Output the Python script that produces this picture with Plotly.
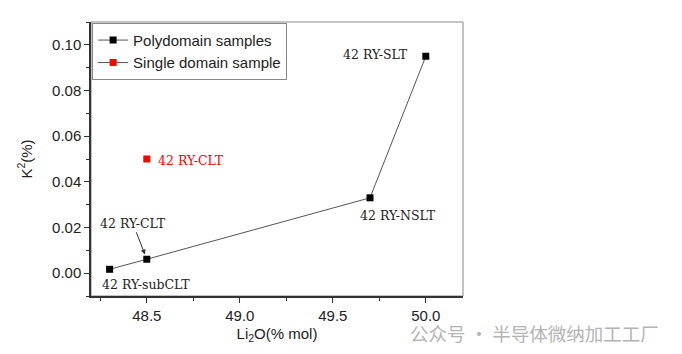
import plotly.graph_objects as go

poly_x = [48.3, 48.5, 49.7, 50.0]
poly_y = [0.0017, 0.0061, 0.033, 0.095]
single_x = [48.5]
single_y = [0.050]

labels = ["42 RY-subCLT", "42 RY-CLT", "42 RY-NSLT", "42 RY-SLT"]
single_label = "42 RY-CLT"

x_ticks = [48.5, 49.0, 49.5, 50.0]
y_ticks = [0.00, 0.02, 0.04, 0.06, 0.08, 0.10]

fig = go.Figure()
fig.add_trace(go.Scatter(
    x=poly_x, y=poly_y, mode="lines+markers", name="Polydomain samples",
    line=dict(color="#555555", width=1),
    marker=dict(symbol="square", size=7, color="black"),
))
fig.add_trace(go.Scatter(
    x=single_x, y=single_y, mode="lines+markers", name="Single domain sample",
    line=dict(color="#555555", width=1),
    marker=dict(symbol="square", size=7, color="red"),
))

serif = dict(family="DejaVu Serif", size=12.5, color="#222222")
fig.add_annotation(x=poly_x[0], y=poly_y[0], text=labels[0], showarrow=False,
                   xanchor="left", yanchor="top", xshift=-10, yshift=-6, font=serif)
fig.add_annotation(x=poly_x[1], y=poly_y[1], text=labels[1], showarrow=True,
                   arrowhead=2, arrowsize=1, arrowwidth=1, arrowcolor="#333333",
                   ax=-14, ay=-36, standoff=5, font=serif)
fig.add_annotation(x=poly_x[2], y=poly_y[2], text=labels[2], showarrow=False,
                   xanchor="center", yanchor="top", xshift=28, yshift=-8, font=serif)
fig.add_annotation(x=poly_x[3], y=poly_y[3], text=labels[3], showarrow=False,
                   xanchor="right", yanchor="middle", xshift=-16, yshift=2, font=serif)
fig.add_annotation(x=single_x[0], y=single_y[0], text=single_label, showarrow=False,
                   xanchor="left", yanchor="middle", xshift=9, yshift=-1,
                   font=dict(family="DejaVu Serif", size=12.5, color="red"))

# watermark
fig.add_annotation(xref="paper", yref="paper", x=1.53, y=-0.135, xanchor="right",
                   yanchor="middle", text="\u516c\u4f17\u53f7 \u00b7 \u534a\u5bfc\u4f53\u5fae\u7eb3\u52a0\u5de5\u5de5\u5382",
                   showarrow=False, borderpad=0,
                   font=dict(family="Noto Sans CJK SC", size=18.5, color="#b4b4b4"))

fig.add_shape(type="rect", xref="paper", yref="paper", x0=0, y0=0, x1=1, y1=1,
              line=dict(color="#888888", width=1), layer="below")

axis_font = dict(family="Liberation Sans, Arial", size=15, color="#222222")
fig.update_xaxes(range=[48.2, 50.2], tickvals=x_ticks, ticktext=[f"{v:.1f}" for v in x_ticks],
                 ticks="outside", ticklen=5, tickwidth=1, tickcolor="#333333",
                 showline=True, linecolor="#333333", linewidth=1.5,
                 showgrid=False, zeroline=False,
                 minor=dict(ticks="outside", ticklen=3, tickcolor="#333333", dtick=0.25, tick0=48.25, showgrid=False),
                 tickfont=axis_font,
                 title=dict(text="Li<sub>2</sub>O(% mol)", font=axis_font, standoff=6))
fig.update_yaxes(range=[-0.01, 0.11], tickvals=y_ticks, ticktext=[f"{v:.2f}" for v in y_ticks],
                 ticks="outside", ticklen=5, tickwidth=1, tickcolor="#333333",
                 showline=True, linecolor="#333333", linewidth=1.5,
                 showgrid=False, zeroline=False,
                 minor=dict(ticks="outside", ticklen=3, tickcolor="#333333", dtick=0.01, tick0=0.01, showgrid=False),
                 tickfont=axis_font,
                 title=dict(text="K<sup>2</sup>(%)", font=axis_font, standoff=16))

fig.update_layout(
    width=682, height=354,
    margin=dict(l=91, r=219, t=22, b=58),
    plot_bgcolor="white", paper_bgcolor="white",
    showlegend=True,
    legend=dict(x=0.003, y=0.997, xanchor="left", yanchor="top",
                bordercolor="#888888", borderwidth=1, bgcolor="white",
                font=dict(family="Liberation Sans, Arial", size=15, color="#222222"),
                tracegroupgap=0, itemwidth=30),
)

fig.write_html("out.html")
